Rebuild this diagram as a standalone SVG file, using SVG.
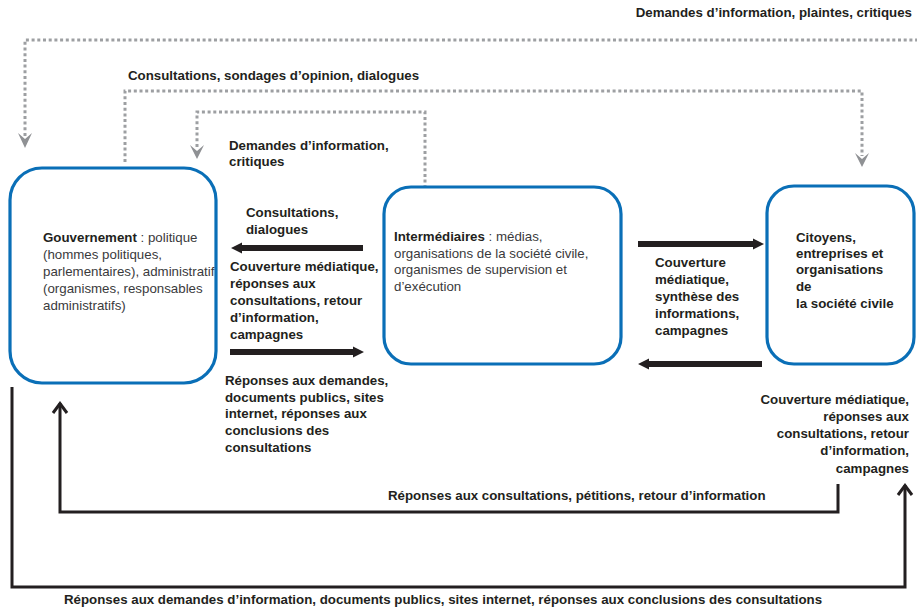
<svg xmlns="http://www.w3.org/2000/svg" width="917" height="610" viewBox="0 0 917 610">
<style>
.box{fill:#fff;stroke:#0a6fb7;stroke-width:3.2}
.dot{fill:none;stroke:#9d9fa2;stroke-width:3;stroke-dasharray:3 2.7}
.dhead{fill:#8f9194}
.thin{fill:none;stroke:#231f20;stroke-width:3}
.thick{fill:#231f20}
.b{font-family:"Liberation Sans",Arial,sans-serif;font-size:13.3px;font-weight:bold;fill:#231f20}
.r{font-family:"Liberation Sans",Arial,sans-serif;font-size:13.3px;fill:#3a3a3c}
.rb{font-weight:bold;fill:#231f20}
</style>
<defs>
<marker id="openHead" markerWidth="14" markerHeight="18" viewBox="-12 -9 14 18" refX="0" refY="0" orient="auto" markerUnits="userSpaceOnUse">
<path d="M-10,-7 L-0.5,0 L-10,7" fill="none" stroke="#231f20" stroke-width="3"/>
</marker>
</defs>
<rect width="917" height="610" fill="#fff"/>

<g id="connectors">
<!-- dotted feedback lines -->
<path class="dot" d="M25,136 V40 H917"/>
<polygon class="dhead" points="18,133 25,139 32,133 25,148"/>
<path class="dot" d="M125,162 V91 H862 V156"/>
<polygon class="dhead" points="855,153 862,159 869,153 862,167"/>
<path class="dot" d="M197,147 V112 H425 V186"/>
<polygon class="dhead" points="190,145 197,151 204,145 197,159"/>

<!-- thick arrows -->
<polygon class="thick" points="231,248 242,242.5 242,245 363,245 363,251 242,251 242,253.5"/>
<polygon class="thick" points="364,352 353,346.5 353,349 230,349 230,355 353,355 353,357.5"/>
<polygon class="thick" points="764,244 753,238.5 753,241 638,241 638,247 753,247 753,249.5"/>
<polygon class="thick" points="638,364 649,358.5 649,361 762,361 762,367 649,367 649,369.5"/>

<!-- bottom loops -->
<path class="thin" d="M838,484 V512 H60 V403" marker-end="url(#openHead)"/>
<path class="thin" d="M12,387 V587 H905 V485" marker-end="url(#openHead)"/>
</g>

<g id="gouvernement">
<rect class="box" x="10" y="168" width="206" height="215" rx="32" ry="32"/>
<text class="r" x="43" y="242"><tspan class="rb">Gouvernement</tspan> : politique</text>
<text class="r" x="43" y="259">(hommes politiques,</text>
<text class="r" x="43" y="276">parlementaires), administratif</text>
<text class="r" x="43" y="293">(organismes, responsables</text>
<text class="r" x="43" y="310">administratifs)</text>
</g>

<g id="intermediaires">
<rect class="box" x="384" y="187" width="237" height="177" rx="27" ry="27"/>
<text class="r" x="394" y="241"><tspan class="rb">Intermédiaires</tspan> : médias,</text>
<text class="r" x="394" y="258">organisations de la société civile,</text>
<text class="r" x="394" y="274">organismes de supervision et</text>
<text class="r" x="394" y="291">d’exécution</text>
</g>

<g id="citoyens">
<rect class="box" x="767" y="186" width="147" height="178" rx="27" ry="27"/>
<text class="b" x="796" y="242">Citoyens,</text>
<text class="b" x="796" y="258">entreprises et</text>
<text class="b" x="796" y="274">organisations</text>
<text class="b" x="796" y="291">de</text>
<text class="b" x="796" y="308">la société civile</text>
</g>

<g id="labels">
<text class="b" x="912" y="17" text-anchor="end">Demandes d’information, plaintes, critiques</text>
<text class="b" x="128" y="80">Consultations, sondages d’opinion, dialogues</text>
<text class="b" x="229" y="150">Demandes d’information,</text>
<text class="b" x="229" y="166">critiques</text>
<text class="b" x="246" y="217">Consultations,</text>
<text class="b" x="246" y="234">dialogues</text>
<text class="b" x="230" y="271">Couverture médiatique,</text>
<text class="b" x="230" y="288">réponses aux</text>
<text class="b" x="230" y="305">consultations, retour</text>
<text class="b" x="230" y="322">d’information,</text>
<text class="b" x="230" y="339">campagnes</text>
<text class="b" x="225" y="385">Réponses aux demandes,</text>
<text class="b" x="225" y="402">documents publics, sites</text>
<text class="b" x="225" y="418">internet, réponses aux</text>
<text class="b" x="225" y="435">conclusions des</text>
<text class="b" x="225" y="452">consultations</text>
<text class="b" x="655" y="267">Couverture</text>
<text class="b" x="655" y="284">médiatique,</text>
<text class="b" x="655" y="301">synthèse des</text>
<text class="b" x="655" y="318">informations,</text>
<text class="b" x="655" y="335">campagnes</text>
<text class="b" x="909" y="404" text-anchor="end">Couverture médiatique,</text>
<text class="b" x="909" y="421" text-anchor="end">réponses aux</text>
<text class="b" x="909" y="438" text-anchor="end">consultations, retour</text>
<text class="b" x="909" y="455" text-anchor="end">d’information,</text>
<text class="b" x="909" y="473" text-anchor="end">campagnes</text>
<text class="b" x="388" y="500">Réponses aux consultations, pétitions, retour d’information</text>
<text class="b" x="64" y="604">Réponses aux demandes d’information, documents publics, sites internet, réponses aux conclusions des consultations</text>
</g>
</svg>
